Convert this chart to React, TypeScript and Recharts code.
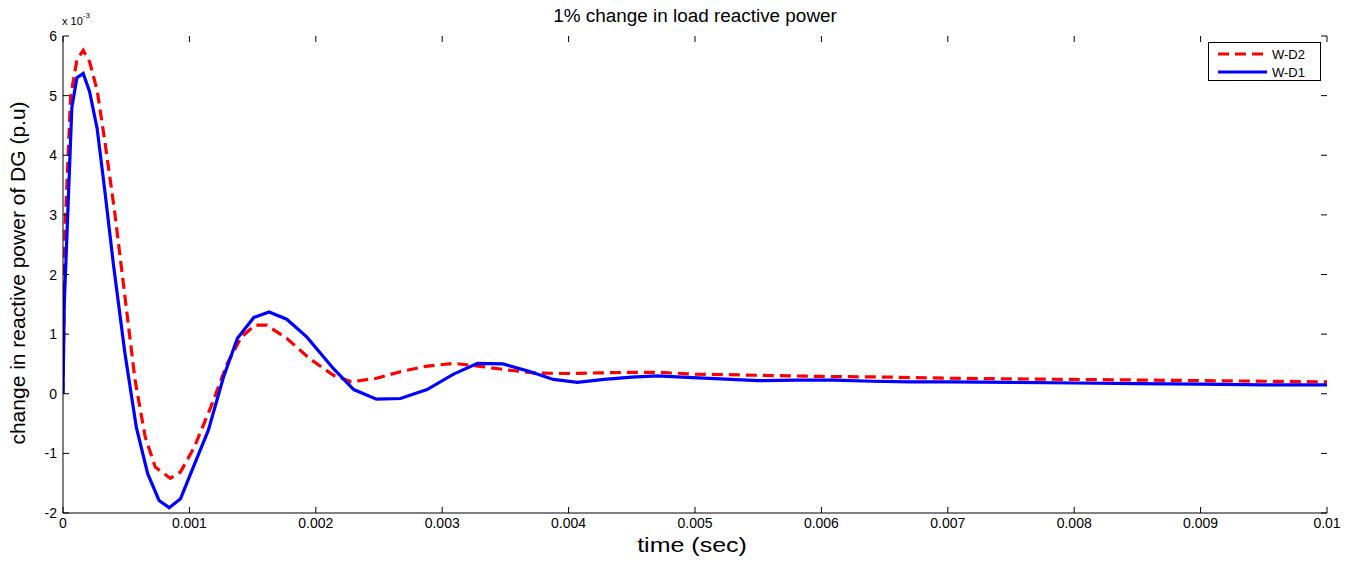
import React from "react";
import {
  LineChart,
  Line,
  XAxis,
  YAxis,
} from "recharts";

// time (sec) and change in reactive power (x 10^-3 p.u)
const wd1Time = [
  0, 0.00001, 0.00007, 0.00011, 0.00016, 0.00021, 0.00027, 0.00033, 0.0004,
  0.00049, 0.00058, 0.00067, 0.00076, 0.00084, 0.00093, 0.00101, 0.00115,
  0.00127, 0.00138, 0.00151, 0.00163, 0.00177, 0.00193, 0.00214, 0.0023,
  0.00248, 0.00267, 0.00288, 0.00309, 0.00328, 0.00348, 0.00368, 0.00388,
  0.00407, 0.00428, 0.0045, 0.0047, 0.0049, 0.0052, 0.0055, 0.0058, 0.0061,
  0.0064, 0.0067, 0.007, 0.0075, 0.008, 0.0085, 0.009, 0.0095, 0.01,
];
const wd1Values = [
  0, 1.5, 4.8, 5.3, 5.37, 5.07, 4.45, 3.42, 2.15,
  0.68, -0.56, -1.34, -1.79, -1.91, -1.76, -1.34, -0.61,
  0.28, 0.93, 1.28, 1.37, 1.25, 0.95, 0.42, 0.07,
  -0.09, -0.08, 0.07, 0.33, 0.51, 0.5, 0.38, 0.24,
  0.19, 0.24, 0.28, 0.3, 0.28, 0.25, 0.22, 0.23, 0.23,
  0.21, 0.2, 0.2, 0.19, 0.18, 0.17, 0.16, 0.15, 0.15,
];

const wd2Time = [
  0, 0.00001, 0.000016, 0.00006, 0.00011, 0.00016, 0.00021, 0.00027, 0.00033,
  0.00041, 0.00049, 0.00057, 0.00065, 0.00073, 0.00085, 0.00093, 0.00104,
  0.00117, 0.0013, 0.00141, 0.00152, 0.00161, 0.00177, 0.00195, 0.00214,
  0.00228, 0.00248, 0.00267, 0.00287, 0.00309, 0.0033, 0.00351, 0.00372,
  0.00398, 0.00424, 0.0045, 0.0047, 0.005, 0.0055, 0.006, 0.0065, 0.007,
  0.0075, 0.008, 0.0085, 0.009, 0.0095, 0.01,
];
const wd2Values = [
  0, 1.8, 2.74, 4.98, 5.6, 5.76, 5.57, 5.09, 4.25,
  3.03, 1.63, 0.23, -0.72, -1.23, -1.42, -1.31, -0.89,
  -0.22, 0.51, 0.95, 1.15, 1.15, 0.93, 0.59, 0.31,
  0.2, 0.26, 0.37, 0.46, 0.51, 0.46, 0.4, 0.35,
  0.34, 0.35, 0.36, 0.36, 0.33, 0.31, 0.29, 0.28, 0.26,
  0.25, 0.24, 0.23, 0.22, 0.21, 0.2,
];

const xTicks = [0, 0.001, 0.002, 0.003, 0.004, 0.005, 0.006, 0.007, 0.008, 0.009, 0.01];
const xTickLabels = ["0", "0.001", "0.002", "0.003", "0.004", "0.005", "0.006", "0.007", "0.008", "0.009", "0.01"];
const yTicks = [-2, -1, 0, 1, 2, 3, 4, 5, 6];

const W = 1356;
const H = 563;
const LEFT = 63;
const RIGHT = 1327;
const TOP = 36;
const BOTTOM = 513;
const FONT = "'Liberation Sans', Arial, sans-serif";

const wd1Data = wd1Time.map((t, i) => ({ t, v: wd1Values[i] }));
const wd2Data = wd2Time.map((t, i) => ({ t, v: wd2Values[i] }));

const YTick = (props: any) => {
  const { y, payload } = props;
  return (
    <g>
      <line x1={LEFT} x2={LEFT + 6} y1={y} y2={y} stroke="#000" />
      <line x1={RIGHT} x2={RIGHT - 6} y1={y} y2={y} stroke="#000" />
      <text x={LEFT - 6} y={y} textAnchor="end" dominantBaseline="central" fontSize={14} fill="#000" fontFamily={FONT}>
        {payload.value}
      </text>
    </g>
  );
};

const XTick = (props: any) => {
  const { x, payload, index } = props;
  return (
    <g>
      <line x1={x} x2={x} y1={BOTTOM} y2={BOTTOM - 6} stroke="#000" />
      <line x1={x} x2={x} y1={TOP} y2={TOP + 6} stroke="#000" />
      <text x={x} y={BOTTOM + 15} textAnchor="middle" fontSize={14} fill="#000" fontFamily={FONT}>
        {xTickLabels[index] ?? payload.value}
      </text>
    </g>
  );
};

export default function App() {
  return (
    <div style={{ position: "absolute", left: 0, top: 0, width: W, height: H, background: "#fff", fontFamily: FONT }}>
      <LineChart
        width={W}
        height={H}
        margin={{ top: TOP, right: W - RIGHT, bottom: 0, left: 0 }}
      >
        <XAxis
          xAxisId={0}
          type="number"
          dataKey="t"
          domain={[0, 0.01]}
          ticks={xTicks}
          tick={<XTick />}
          tickLine={false}
          axisLine={{ stroke: "#000" }}
          height={H - BOTTOM}
          allowDataOverflow
        />
        <XAxis
          xAxisId="top"
          orientation="top"
          type="number"
          domain={[0, 0.01]}
          height={0}
          tick={false}
          tickLine={false}
          axisLine={{ stroke: "#000" }}
        />
        <YAxis
          yAxisId={0}
          type="number"
          domain={[-2, 6]}
          ticks={yTicks}
          tick={<YTick />}
          tickLine={false}
          axisLine={{ stroke: "#000" }}
          width={LEFT}
          allowDataOverflow
        />
        <YAxis
          yAxisId="right"
          orientation="right"
          type="number"
          domain={[-2, 6]}
          width={0}
          tick={false}
          tickLine={false}
          axisLine={{ stroke: "#000" }}
        />
        <Line
          data={wd2Data}
          dataKey="v"
          type="linear"
          stroke="#ff0000"
          strokeWidth={3.2}
          strokeDasharray="11 6"
          dot={false}
          isAnimationActive={false}
        />
        <Line
          data={wd1Data}
          dataKey="v"
          type="linear"
          stroke="#0000ff"
          strokeWidth={3.2}
          dot={false}
          isAnimationActive={false}
        />
      </LineChart>

      <div
        style={{
          position: "absolute",
          left: (LEFT + RIGHT) / 2,
          top: 16,
          fontSize: 18,
          whiteSpace: "nowrap",
          transform: "translate(-50%, -50%) scaleX(1.05)",
        }}
      >
        1% change in load reactive power
      </div>
      <div style={{ position: "absolute", left: 62, top: 13, fontSize: 11 }}>
        x 10<sup style={{ fontSize: 8, position: "relative", top: -2 }}>-3</sup>
      </div>
      <div
        style={{
          position: "absolute",
          left: (LEFT + RIGHT) / 2 - 3,
          top: 545,
          fontSize: 20,
          whiteSpace: "nowrap",
          transform: "translate(-50%, -50%) scaleX(1.25)",
        }}
      >
        time (sec)
      </div>
      <div
        style={{
          position: "absolute",
          left: 18,
          top: 273,
          fontSize: 21,
          whiteSpace: "nowrap",
          transform: "translate(-50%, -50%) rotate(-90deg)",
        }}
      >
        change in reactive power of DG (p.u)
      </div>

      <div
        style={{
          position: "absolute",
          left: 1208,
          top: 42,
          width: 113,
          height: 39,
          border: "1px solid #000",
          background: "#fff",
          boxSizing: "border-box",
        }}
      >
        <svg width={113} height={39} style={{ position: "absolute", left: -1, top: -1 }}>
          <line x1={10} x2={59} y1={12} y2={12} stroke="#ff0000" strokeWidth={3} strokeDasharray="11 6" />
          <line x1={10} x2={59} y1={30} y2={30} stroke="#0000ff" strokeWidth={3} />
          <text x={64} y={12} dominantBaseline="central" fontSize={13} fontFamily={FONT}>W-D2</text>
          <text x={64} y={30} dominantBaseline="central" fontSize={13} fontFamily={FONT}>W-D1</text>
        </svg>
      </div>
    </div>
  );
}
